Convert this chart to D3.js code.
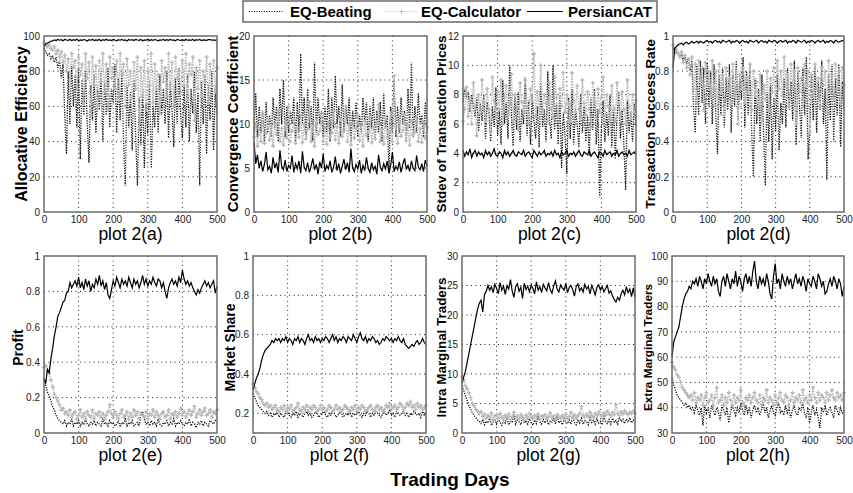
<!DOCTYPE html>
<html>
<head>
<meta charset="utf-8">
<script src="https://cdn.jsdelivr.net/npm/d3@7"></script>
<style>
body { margin: 0; background: #fff; }
svg { display: block; font-family: "Liberation Sans", Arial, sans-serif; }
</style>
</head>
<body>
<div class="main"></div>
<script>
// series values, one sample every 5 trading days (0..500)
const seriesNames = ["EQ-Beating", "EQ-Calculator", "PersianCAT"]
const xTicks = [0, 100, 200, 300, 400, 500]

// 2(a) Allocative Efficiency
const ebA = [93,91,89,90,87,89,85,88,82,86,76,84,55,33,80,50,83,60,78,48,82,30,75,55,80,50,28,72,52,78,45,70,58,80,40,74,55,82,48,70,62,84,45,76,52,80,40,15,72,48,68,35,75,42,15,65,38,70,25,62,44,74,25,60,48,72,45,78,55,70,50,80,42,74,58,37,76,50,82,55,42,72,48,78,40,70,56,80,45,68,15,74,50,78,33,72,52,80,35,70,55]
const ecA = [96,95,94,95,93,92,94,90,92,88,91,85,89,80,87,75,90,82,86,70,88,78,84,62,90,76,85,55,88,72,83,60,86,74,90,68,84,58,88,76,82,70,86,64,90,78,84,60,87,72,80,65,85,70,88,48,82,66,86,58,80,72,90,62,84,70,78,56,86,74,82,66,90,70,85,60,88,76,80,68,86,72,90,64,84,78,88,52,82,70,86,66,80,74,88,62,84,72,86,68,82]
const pcA = [94,95.5,96,96.5,97,97.2,97.8,97.4,98,97.6,97.9,97.3,98.1,97.7,97.5,98,97.4,97.9,97.6,98.2,97.3,97.8,97.5,98,97.7,97.2,97.9,97.6,98.1,97.4,97.8,97.5,98,97.3,97.9,97.6,98.2,97.5,97.8,97.4,98,97.7,97.3,97.9,97.6,98.1,97.5,97.8,97.2,98,97.6,97.9,97.4,98.1,97.7,97.5,98,97.3,97.8,97.6,98.2,97.4,97.9,97.5,98,97.7,97.3,97.8,97.6,98.1,97.4,97.9,97.5,98,97.6,97.8,97.3,98.1,97.7,97.5,97.9,97.4,98,97.6,97.8,97.5,98.1,97.3,97.9,97.6,98,97.4,97.8,97.7,97.5,97.9,98,97.6,97.8,97.5,97.9]

// 2(b) Convergence Coefficient
const ebB = [9,13.5,8.5,12,9,11.5,8,12.5,9,11,8.5,13,9.5,12,8,14,10,15,8.5,12,9,11.5,10,13,8,12.5,9,18,10,13,8.5,14,9.5,12,8,17,9,13,10,11.5,8.5,12,9,14,8,13,9.5,15.5,10,12,8.5,14.5,9,12,10,13,8,11.5,9.5,12.5,8.5,11,9,13,10,12.5,8,12,9.5,13,8.5,11.5,9,12.5,8,13.5,9.5,11,4.5,12,9,15,8.5,12,9,13,10,11.5,8,14,9.5,17,8.5,12,9,13.5,10,11,8.5,12.5,9]
const ecB = [8.5,10,7.5,9.5,8,11,7.8,9,10.5,8.2,9.8,7.5,10,8.8,11.5,8,9.5,7.6,10.2,8.4,12,8,9.2,10.5,7.8,9.6,8.5,11,7.9,10,8.3,9.4,12.5,8,9.8,7.5,10.4,8.8,9.2,11,8,9.6,7.7,10.2,8.5,9,11.5,8.2,9.7,7.8,10.5,8.6,9.3,12,8,9.9,7.6,10.1,8.4,9.5,11,8.1,9.8,7.5,10.3,8.7,9.1,10.8,7.9,9.6,8.3,10,12.2,8,9.4,7.7,10.6,8.5,9.2,11.2,8,15.5,9.7,7.8,10.2,8.6,9.3,11,8.1,9.9,7.6,10.4,8.8,9.1,10.6,8,9.5,7.9,10.2,8.4,9.6]
const pcB = [8,5.5,6.5,5,5.8,4.6,5.4,6.8,4.8,5.2,4.4,6.2,5,5.6,4.5,7,5.2,4.8,5.9,4.6,5.3,5,6.4,4.5,5.5,4.9,5.8,4.4,6.9,5.1,4.7,5.6,4.5,5.2,6.1,4.8,5.4,4.3,5.7,5,6.6,4.6,5.3,4.9,5.8,4.5,5.1,6.3,4.7,5.5,4.4,5.2,6,4.8,5.6,4.5,7.2,5,4.6,5.4,4.9,5.9,4.4,5.3,4.7,6.2,5,4.5,5.6,4.8,5.2,4.3,6.5,5.1,4.7,5.5,4.9,5.8,4.4,5.3,6.8,4.6,5.2,4.8,5.7,4.5,5.4,6.1,4.9,5.3,4.6,5.8,5,4.7,6.4,5.1,4.8,5.5,4.6,5.9,5.2]

// 2(c) Stdev of Transaction Prices
const ebC = [7.5,8.4,7.8,8.2,6.8,8,7.2,6.5,7.8,5.5,7.4,6.2,8,5,7.5,6.8,4.8,7.2,5.8,8.5,5.2,7,4.6,9,6,7.5,5,10,6.5,4.5,7.8,5.6,8.2,4.8,7,6,9.2,5.2,7.6,4.6,8,6.2,5,7.2,4.4,8.8,5.8,7,4.8,9.6,6.4,5,10,5.6,7.4,4.6,8,3,6.8,5.2,2.6,7.8,5,8.4,4.6,7,6,4.4,8,5.4,7.2,4.8,6.6,3.8,7.8,5.6,8.4,4.6,7,1,5.8,7.6,4.8,6.8,5.2,8,4.4,7.2,3.6,6.4,8.2,5,7,4.6,1.5,7.6,5.4,6.8,4.8,7.4,5.8]
const ecC = [6.2,7,8.5,6.5,7.8,6,8.8,7.2,5.2,8,6.8,9,7.5,6.2,8.4,7,5.5,9.2,7.6,6.4,8.2,7,9,6,7.8,8.6,6.6,7.4,9.4,6.2,8,7.2,5.6,8.8,7.5,6.8,9,7.2,6,8.4,7.6,10.8,6.5,8.2,7,10,6.8,8,7.4,6.2,8.8,7,6.4,9.2,7.8,6.6,8.4,7.2,9.5,6.8,8,7.4,6.2,9.5,7.6,6.8,8.6,7,6.4,9,7.4,6.6,8.2,7,5.8,8.8,7.6,6.4,8.4,6.8,7.8,9.2,6.6,8,7.2,6.4,8.6,7,6.2,8.8,7.4,6.6,8.2,7,6,9,7.2,6.4,8,6.8,7.6]
const pcC = [4.2,3.8,4.1,3.9,4.3,3.7,4,4.2,3.8,4.1,3.9,4,3.7,4.2,3.9,4.1,3.8,4,4.3,3.9,3.8,4.1,4,3.7,4.2,3.9,4.1,3.8,4,4.2,3.9,3.8,4.1,4,3.9,4.2,3.8,4,4.1,3.9,3.7,4.2,4,3.8,4.1,3.9,4,4.2,3.8,4,3.9,4.1,3.8,4.2,3.9,4,3.7,4.1,3.9,4,4.2,3.8,4,3.9,4.1,3.8,4,4.2,3.9,3.8,4.1,4,3.9,4.2,3.8,4,4.1,3.9,3.7,4.1,4,3.8,4.2,3.9,4,4.1,3.8,4,3.9,4.2,3.8,4,4.1,3.9,4,3.8,4.2,3.9,4,4.1,3.9]

// 2(d) Transaction Success Rate
const ebD = [0.93,0.92,0.9,0.91,0.88,0.9,0.86,0.89,0.84,0.88,0.8,0.86,0.6,0.45,0.84,0.55,0.86,0.62,0.82,0.5,0.85,0.6,0.8,0.5,0.84,0.56,0.33,0.78,0.55,0.82,0.48,0.76,0.58,0.84,0.45,0.78,0.6,0.86,0.52,0.76,0.64,0.88,0.48,0.8,0.55,0.84,0.45,0.2,0.76,0.5,0.7,0.4,0.78,0.45,0.15,0.68,0.4,0.72,0.3,0.65,0.46,0.78,0.35,0.62,0.5,0.76,0.48,0.82,0.58,0.74,0.52,0.86,0.38,0.8,0.6,0.42,0.82,0.55,0.88,0.3,0.48,0.78,0.52,0.84,0.45,0.74,0.58,0.86,0.5,0.7,0.18,0.78,0.52,0.84,0.4,0.76,0.55,0.84,0.37,0.74,0.58]
const ecD = [0.95,0.93,0.92,0.9,0.88,0.91,0.85,0.89,0.82,0.87,0.78,0.88,0.7,0.84,0.62,0.86,0.74,0.82,0.58,0.85,0.72,0.8,0.66,0.86,0.7,0.8,0.6,0.84,0.68,0.78,0.55,0.82,0.7,0.76,0.62,0.84,0.66,0.8,0.5,0.78,0.7,0.82,0.62,0.76,0.68,0.84,0.58,0.8,0.66,0.74,0.6,0.78,0.52,0.72,0.64,0.8,0.58,0.76,0.68,0.82,0.62,0.86,0.7,0.8,0.66,0.88,0.72,0.78,0.6,0.84,0.7,0.8,0.5,0.82,0.68,0.76,0.64,0.84,0.72,0.8,0.45,0.78,0.66,0.84,0.7,0.76,0.6,0.82,0.72,0.8,0.56,0.86,0.68,0.78,0.64,0.84,0.7,0.8,0.62,0.82,0.72]
const pcD = [0.82,0.93,0.94,0.95,0.955,0.96,0.95,0.96,0.965,0.955,0.96,0.97,0.96,0.965,0.97,0.96,0.97,0.965,0.96,0.97,0.975,0.965,0.97,0.96,0.97,0.975,0.965,0.97,0.96,0.975,0.97,0.965,0.97,0.975,0.96,0.97,0.965,0.975,0.97,0.96,0.97,0.975,0.965,0.97,0.96,0.975,0.97,0.965,0.97,0.975,0.96,0.97,0.975,0.965,0.97,0.96,0.975,0.97,0.965,0.975,0.97,0.96,0.97,0.975,0.965,0.97,0.975,0.96,0.97,0.965,0.975,0.97,0.96,0.975,0.97,0.965,0.97,0.975,0.96,0.97,0.965,0.975,0.97,0.96,0.97,0.975,0.965,0.97,0.975,0.96,0.97,0.965,0.975,0.97,0.96,0.975,0.97,0.965,0.97,0.975,0.97]

// 2(e) Profit
const ebE = [0.3,0.27,0.23,0.21,0.18,0.15,0.13,0.1,0.08,0.07,0.06,0.05,0.07,0.04,0.06,0.05,0.08,0.04,0.06,0.05,0.07,0.04,0.06,0.05,0.08,0.05,0.04,0.06,0.05,0.07,0.04,0.06,0.05,0.04,0.08,0.05,0.06,0.04,0.07,0.05,0.06,0.04,0.05,0.07,0.04,0.06,0.05,0.08,0.04,0.06,0.05,0.07,0.04,0.05,0.06,0.04,0.11,0.12,0.08,0.05,0.06,0.04,0.07,0.05,0.06,0.04,0.08,0.05,0.04,0.06,0.05,0.07,0.04,0.06,0.05,0.08,0.04,0.06,0.05,0.07,0.05,0.04,0.06,0.05,0.08,0.04,0.06,0.05,0.03,0.06,0.05,0.07,0.04,0.06,0.05,0.04,0.07,0.06,0.05,0.07,0.06]
const ecE = [0.37,0.38,0.35,0.34,0.3,0.26,0.22,0.2,0.18,0.16,0.13,0.14,0.11,0.12,0.1,0.13,0.09,0.11,0.12,0.08,0.1,0.13,0.09,0.11,0.08,0.12,0.1,0.09,0.13,0.08,0.11,0.1,0.12,0.09,0.11,0.08,0.1,0.12,0.16,0.11,0.09,0.12,0.1,0.08,0.11,0.13,0.09,0.1,0.12,0.08,0.11,0.09,0.13,0.1,0.12,0.08,0.11,0.1,0.09,0.12,0.08,0.11,0.1,0.13,0.09,0.12,0.1,0.08,0.11,0.12,0.09,0.1,0.13,0.08,0.11,0.1,0.12,0.09,0.11,0.14,0.1,0.12,0.09,0.11,0.13,0.1,0.12,0.15,0.09,0.11,0.13,0.1,0.12,0.14,0.1,0.11,0.13,0.09,0.12,0.11,0.13]
const pcE = [0.31,0.28,0.36,0.34,0.42,0.48,0.55,0.6,0.66,0.68,0.71,0.74,0.75,0.79,0.8,0.85,0.82,0.84,0.86,0.83,0.88,0.82,0.85,0.81,0.87,0.83,0.86,0.8,0.84,0.82,0.87,0.84,0.89,0.83,0.86,0.81,0.85,0.78,0.76,0.81,0.86,0.83,0.88,0.85,0.82,0.87,0.84,0.86,0.83,0.88,0.85,0.82,0.87,0.84,0.86,0.82,0.85,0.89,0.84,0.87,0.83,0.86,0.84,0.88,0.85,0.83,0.87,0.86,0.82,0.85,0.8,0.76,0.82,0.85,0.87,0.84,0.86,0.83,0.88,0.85,0.92,0.87,0.84,0.86,0.83,0.85,0.82,0.8,0.78,0.81,0.79,0.82,0.84,0.86,0.83,0.85,0.82,0.84,0.86,0.79,0.83]

// 2(f) Market Share
const ebF = [0.3,0.28,0.26,0.24,0.23,0.22,0.21,0.2,0.21,0.19,0.2,0.18,0.2,0.19,0.21,0.18,0.2,0.19,0.18,0.2,0.21,0.19,0.18,0.2,0.19,0.21,0.18,0.2,0.19,0.18,0.2,0.21,0.19,0.2,0.18,0.19,0.21,0.2,0.18,0.19,0.2,0.21,0.19,0.18,0.2,0.19,0.21,0.2,0.18,0.19,0.2,0.21,0.18,0.19,0.2,0.19,0.21,0.18,0.2,0.19,0.2,0.21,0.19,0.18,0.2,0.19,0.21,0.2,0.18,0.2,0.19,0.21,0.2,0.19,0.18,0.2,0.21,0.19,0.2,0.22,0.19,0.2,0.18,0.21,0.2,0.19,0.2,0.21,0.19,0.2,0.18,0.2,0.19,0.21,0.2,0.19,0.2,0.18,0.21,0.19,0.2]
const ecF = [0.35,0.33,0.31,0.3,0.28,0.27,0.25,0.24,0.25,0.23,0.24,0.22,0.23,0.24,0.22,0.21,0.23,0.22,0.24,0.21,0.23,0.22,0.24,0.21,0.22,0.23,0.25,0.22,0.21,0.23,0.22,0.24,0.21,0.23,0.22,0.24,0.23,0.21,0.22,0.24,0.22,0.23,0.21,0.22,0.24,0.23,0.21,0.22,0.24,0.22,0.23,0.21,0.22,0.24,0.23,0.22,0.21,0.23,0.22,0.24,0.21,0.23,0.22,0.24,0.23,0.21,0.22,0.23,0.24,0.22,0.21,0.23,0.24,0.22,0.23,0.21,0.22,0.24,0.23,0.25,0.22,0.23,0.24,0.22,0.23,0.25,0.24,0.22,0.23,0.25,0.24,0.26,0.23,0.24,0.22,0.25,0.23,0.24,0.22,0.23,0.24]
const pcF = [0.32,0.35,0.38,0.4,0.43,0.47,0.5,0.52,0.53,0.54,0.55,0.57,0.56,0.58,0.57,0.58,0.56,0.58,0.57,0.59,0.56,0.58,0.57,0.55,0.58,0.57,0.59,0.56,0.58,0.57,0.55,0.58,0.6,0.57,0.58,0.56,0.59,0.57,0.58,0.56,0.58,0.57,0.59,0.58,0.56,0.58,0.6,0.57,0.59,0.56,0.58,0.57,0.59,0.58,0.56,0.59,0.58,0.57,0.6,0.58,0.56,0.59,0.61,0.58,0.57,0.59,0.56,0.58,0.57,0.59,0.58,0.56,0.57,0.55,0.56,0.58,0.57,0.59,0.58,0.57,0.58,0.56,0.58,0.57,0.59,0.57,0.56,0.58,0.55,0.54,0.53,0.54,0.55,0.54,0.56,0.57,0.55,0.56,0.58,0.56,0.55]

// 2(g) Intra Marginal Traders
const ebG = [8,7.2,6.3,5.5,4.6,4,3.4,3,2.6,2.2,2,1.6,2.3,1.4,2,1.7,2.5,1.3,1.9,2.2,1.5,2.4,1.8,1.3,2.1,1.7,2.6,1.4,2,1.8,3.2,1.5,2.2,1.9,1.4,2.8,1.7,2.1,1.5,2.4,1.8,1.3,2.2,1.6,2.9,1.9,1.5,2.3,1.7,2.6,1.4,2,1.8,2.5,1.5,2.9,1.7,2.1,1.4,2.4,1.9,1.6,2.2,1.5,2.7,1.8,1.4,2.3,1.7,2.5,1.5,2.1,1.9,1.4,2.6,1.8,2.2,1.5,2.4,1.7,2,1.4,2.8,1.9,1.6,2.3,1.5,2.5,1.8,2.1,1.5,2.7,1.9,2.3,1.6,2.4,1.8,2.6,1.7,2.2,1.9]
const ecG = [9.5,9,8,7.5,6.8,6,5,4.6,4,3.7,3.3,3.6,2.8,3.2,2.5,3,2.7,3.4,2.2,2.9,3.1,2.5,3.3,2.7,2.4,3,2.6,3.2,2.3,2.8,3.5,2.6,2.9,2.4,3.1,2.7,2.2,3,2.5,3.3,2.8,2.4,3,2.6,3.2,2.3,2.9,2.7,3.1,2.4,2.8,3.4,2.6,2.9,2.3,3.1,2.7,2.5,3,2.6,3.2,2.4,2.8,3.5,2.7,3.1,2.5,2.9,3.3,4.5,3,2.7,3.2,2.8,3.5,3,2.6,3.3,2.9,3.6,3.1,2.8,3.4,3,3.7,3.2,2.9,3.5,3.1,4.8,3.3,3,3.6,3.2,3.8,3.4,3.1,3.5,3.3,3.7,3.4]
const pcG = [8.5,9.5,10.5,12,13.5,15,16.5,18,19.5,21,22,22.5,20.5,23.5,24,25,24.2,24.8,23.8,25.2,24.5,23.6,25.5,24.2,24.9,23.5,25,24.4,26,24.1,23,24.8,25.3,24,24.7,22.8,25.4,24.3,24.9,23.9,25.1,24.5,23.6,25.6,24.2,24.8,23.8,25.2,24.6,24.1,25.5,24.3,23.7,24.9,25.8,24.4,23.9,25.1,24.6,24.2,25.4,23.8,24.7,25,24.3,23.2,24.8,25.3,24.1,24.6,23.9,25.2,24.4,24.8,23.6,25,24.3,23.4,24.7,25.1,24.2,24.8,23.9,24.5,25,23.7,24.1,23.2,22.6,22.2,23,22.5,23.6,24.2,23.4,24.8,23.8,24.4,23.1,24.6,23]

// 2(h) Extra Marginal Traders
const ebH = [52,49,47,45,44,43,42,41,42,40,41,39,40,38,41,39,37,40,33,41,38,40,36,41,39,37,40,38,35,41,39,37,40,34,38,41,39,37,40,38,42,39,37,41,38,40,36,39,41,38,40,37,39,42,38,40,36,39,41,38,37,40,42,38,39,37,41,38,40,36,39,41,38,37,40,39,42,38,36,40,34,38,41,37,39,36,32,40,38,41,37,39,40,38,36,41,39,37,40,38,39]
const ecH = [58,56,55,53,52,50,48,47,46,45,44,45,43,46,42,44,43,45,41,44,46,42,43,45,41,44,48,42,43,45,41,44,42,46,43,41,45,42,44,43,47,42,41,44,43,45,42,44,46,43,42,45,41,44,43,47,42,44,43,41,45,42,44,46,43,42,45,44,41,43,46,42,44,43,45,42,47,43,44,42,45,43,48,44,42,46,43,45,44,42,46,43,45,47,44,43,46,44,45,43,46]
const pcH = [60,66,68,70,72,76,80,83,85,86,88,87,90,89,91,88,92,90,87,91,89,93,90,88,92,89,91,86,84,90,92,88,93,90,87,91,89,94,88,92,90,86,91,93,89,92,88,94,98,90,87,92,89,91,88,93,90,85,83,92,97,89,91,87,93,90,88,92,89,91,87,90,93,89,91,88,92,90,86,91,89,88,92,90,87,93,91,88,90,85,86,89,91,88,92,90,87,91,89,84,88]

const yTicksA = [0, 20, 40, 60, 80, 100]
const yTicksB = [0, 5, 10, 15, 20]
const yTicksC = [0, 2, 4, 6, 8, 10, 12]
const yTicksD = [0, 0.2, 0.4, 0.6, 0.8, 1]
const yTicksE = [0, 0.2, 0.4, 0.6, 0.8, 1]
const yTicksF = [0.2, 0.4, 0.6, 0.8, 1]
const yTicksG = [0, 5, 10, 15, 20, 25, 30]
const yTicksH = [30, 40, 50, 60, 70, 80, 90, 100]

const panels = [
    { tag: "a", ylabel: "Allocative Efficiency", dom: [0, 100], ticks: yTicksA, data: [ebA, ecA, pcA], box: [44, 36, 173, 176], lx: 21.5, fs: 16, ty: 28 },
    { tag: "b", ylabel: "Convergence Coefficient", dom: [0, 20], ticks: yTicksB, data: [ebB, ecB, pcB], box: [254, 36, 173, 176], lx: 232.5, fs: 15, ty: 28 },
    { tag: "c", ylabel: "Stdev of Transaction Prices", dom: [0, 12], ticks: yTicksC, data: [ebC, ecC, pcC], box: [463, 36, 173, 176], lx: 441, fs: 13.5, ty: 28 },
    { tag: "d", ylabel: "Transaction Success Rate", dom: [0, 1], ticks: yTicksD, data: [ebD, ecD, pcD], box: [673, 36, 171, 176], lx: 650, fs: 13.7, ty: 28 },
    { tag: "e", ylabel: "Profit", dom: [0, 1], ticks: yTicksE, data: [ebE, ecE, pcE], box: [44, 256, 173, 177], lx: 18, fs: 14, ty: 28 },
    { tag: "f", ylabel: "Market Share", dom: [0.1, 1], ticks: yTicksF, data: [ebF, ecF, pcF], box: [253, 256, 173, 177], lx: 229.5, fs: 14, ty: 28 },
    { tag: "g", ylabel: "Intra Marginal Traders", dom: [0, 30], ticks: yTicksG, data: [ebG, ecG, pcG], box: [462, 256, 173, 177], lx: 441, fs: 13.4, ty: 28 },
    { tag: "h", ylabel: "Extra Marginal Traders", dom: [30, 100], ticks: yTicksH, data: [ebH, ecH, pcH], box: [672, 256, 172, 177], lx: 648, fs: 11.8, ty: 28 }
]

const GRAY = "#b8b8b8"
const plus = "M-2,0h4M0,-2v4"

const svg = d3.select(".main")
    .append("svg")
    .attr("width", 853)
    .attr("height", 493)

panels.forEach(p => {
    const [bx, by, bw, bh] = p.box
    const x = d3.scaleLinear().domain([0, 500]).range([bx, bx + bw])
    const y = d3.scaleLinear().domain(p.dom).range([by + bh, by])
    const g = svg.append("g")

    g.append("rect").attr("x", bx).attr("y", by).attr("width", bw).attr("height", bh).attr("fill", "#fff")

    // dotted grid
    g.selectAll(".vg").data(xTicks.slice(1, -1)).join("line")
        .attr("x1", d => x(d)).attr("x2", d => x(d))
        .attr("y1", by).attr("y2", by + bh)
        .attr("stroke", "#222").attr("stroke-width", 1).attr("stroke-dasharray", "1,3.5")
    g.selectAll(".hg").data(p.ticks.filter(t => t > p.dom[0] && t < p.dom[1])).join("line")
        .attr("x1", bx).attr("x2", bx + bw)
        .attr("y1", d => y(d)).attr("y2", d => y(d))
        .attr("stroke", "#222").attr("stroke-width", 1).attr("stroke-dasharray", "1,3.5")

    const line = arr => d3.line()
        .x((d, i) => x(i * 500 / (arr.length - 1)))
        .y(d => y(d))(arr)

    const [eb, ec, pc] = p.data

    g.append("path").attr("d", line(eb))
        .attr("fill", "none").attr("stroke", "#111").attr("stroke-width", 1.3)
        .attr("stroke-dasharray", "1.2,1.3")

    g.append("path").attr("d", line(ec))
        .attr("fill", "none").attr("stroke", GRAY).attr("stroke-width", 1.5)
        .attr("stroke-dasharray", "1.5,1.2")
    g.selectAll(".mk").data(ec).join("path")
        .attr("d", plus)
        .attr("transform", (d, i) => `translate(${x(i * 500 / (ec.length - 1))},${y(d)})`)
        .attr("stroke", GRAY).attr("stroke-width", 1.3).attr("fill", "none")

    g.append("path").attr("d", line(pc))
        .attr("fill", "none").attr("stroke", "#000").attr("stroke-width", 1.2)

    g.append("rect").attr("x", bx).attr("y", by).attr("width", bw).attr("height", bh)
        .attr("fill", "none").attr("stroke", "#6a6a6a").attr("stroke-width", 1.5)

    // axes
    const ax = g.append("g").attr("transform", `translate(0,${by + bh})`)
        .call(d3.axisBottom(x).tickValues(xTicks).tickSize(0).tickPadding(4))
    const ay = g.append("g").attr("transform", `translate(${bx},0)`)
        .call(d3.axisLeft(y).tickValues(p.ticks).tickSize(0).tickPadding(4).tickFormat(d3.format("")))
    for (const a of [ax, ay]) {
        a.select(".domain").remove()
        a.selectAll("text")
            .attr("font-family", "'Liberation Sans', Arial, sans-serif")
            .attr("font-size", 10)
            .attr("fill", "#222")
    }

    g.append("text")
        .attr("transform", `translate(${p.lx + 0.36 * p.fs},${by + bh / 2 + (p.tag > "d" ? 3 : 0)}) rotate(-90)`)
        .attr("text-anchor", "middle")
        .attr("font-weight", "bold")
        .attr("font-size", p.fs)
        .text(p.ylabel)

    g.append("text")
        .attr("x", bx + bw / 2)
        .attr("y", by + bh + p.ty)
        .attr("text-anchor", "middle")
        .attr("font-size", 17.5)
        .text(`plot 2(${p.tag})`)
})

svg.append("text")
    .attr("x", 450).attr("y", 486)
    .attr("text-anchor", "middle")
    .attr("font-weight", "bold")
    .attr("font-size", 19)
    .text("Trading Days")

// legend
const leg = svg.append("g")
leg.append("rect").attr("x", 243).attr("y", 1).attr("width", 414).attr("height", 21)
    .attr("fill", "#fff").attr("stroke", "#444").attr("stroke-width", 1.2)
const legItems = [
    { x0: 249, x1: 284, tx: 290, color: "#000", dash: "1,1.5", mark: false },
    { x0: 384, x1: 419, tx: 421, color: GRAY, dash: "1,1.5", mark: true },
    { x0: 527, x1: 563, tx: 568, color: "#000", dash: null, mark: false }
]
legItems.forEach((it, i) => {
    leg.append("line").attr("x1", it.x0).attr("x2", it.x1).attr("y1", 11.5).attr("y2", 11.5)
        .attr("stroke", it.color).attr("stroke-width", 1).attr("stroke-dasharray", it.dash)
    if (it.mark) leg.append("path").attr("d", plus)
        .attr("transform", `translate(${(it.x0 + it.x1) / 2},11.5)`)
        .attr("stroke", it.color).attr("fill", "none")
    leg.append("text").attr("x", it.tx).attr("y", 17)
        .attr("font-weight", "bold").attr("font-size", 15)
        .text(seriesNames[i])
})
</script>
</body>
</html>
